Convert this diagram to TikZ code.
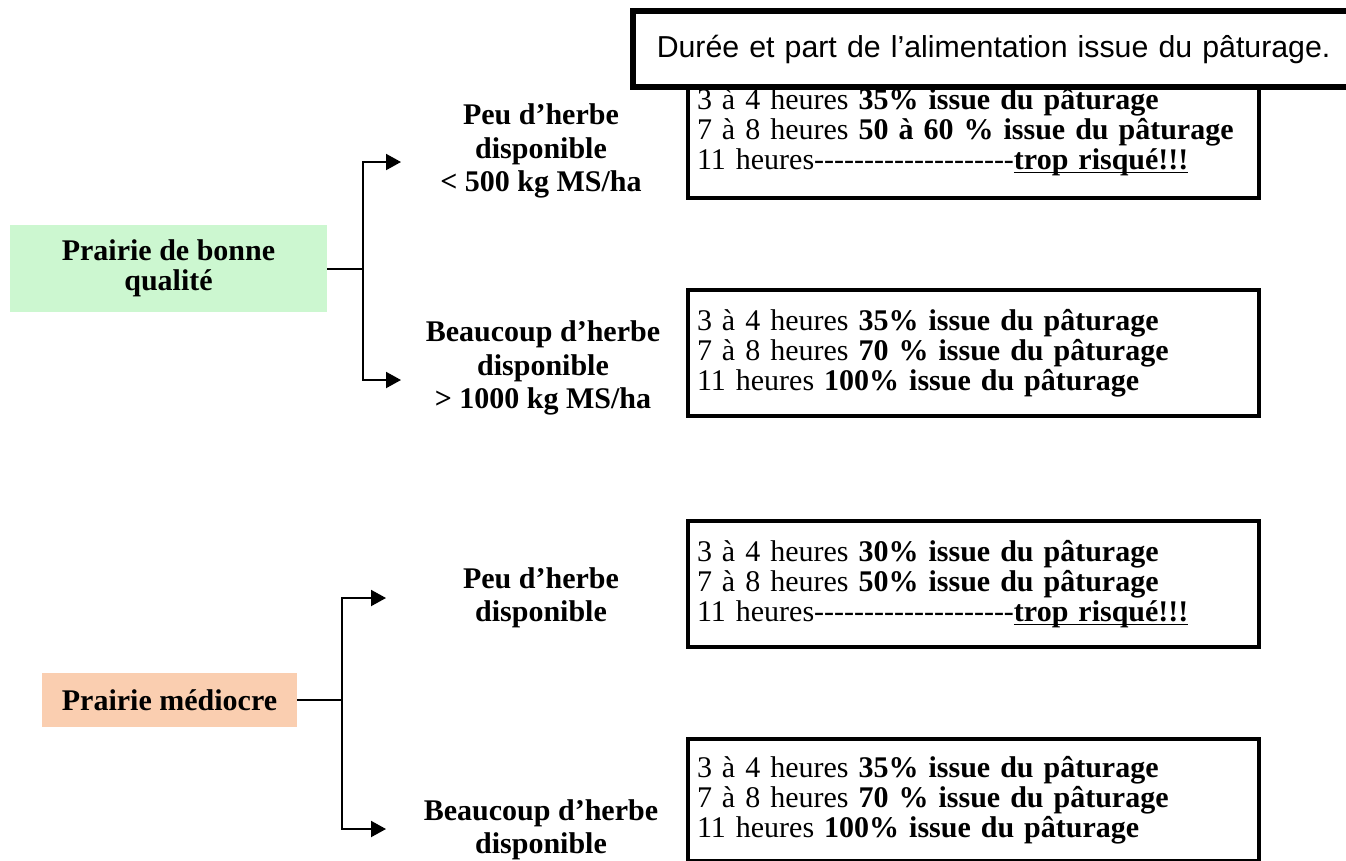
\documentclass[tikz,border=0pt]{standalone}
\usepackage{fontspec}
\setmainfont{Liberation Serif}
\newfontfamily\bodyfont{Liberation Serif}
\newfontfamily\titlefont{Liberation Sans}
\usetikzlibrary{arrows.meta}
\definecolor{goodgreen}{RGB}{204,247,208}
\definecolor{poorpeach}{RGB}{250,206,176}
\def\hy{-\kern0pt}
\def\dashrow{\hy\hy\hy\hy\hy\hy\hy\hy\hy\hy\hy\hy\hy\hy\hy\hy\hy\hy\hy\hy}
\newcommand\thickul[1]{\setbox0=\hbox{#1}\rlap{\rule[-4pt]{\wd0}{1.8pt}}\box0}
\begin{document}
\begin{tikzpicture}[x=1pt,y=-1pt,
  databox/.style={draw, line width=4pt, fill=white, minimum width=571pt,
    minimum height=126pt, text width=553pt, inner xsep=9pt, align=left,
    anchor=north west, font=\bodyfont\fontsize{30}{30}\selectfont},
  branchlabel/.style={align=center, font=\bfseries\fontsize{30}{33.5}\selectfont},
  rootbox/.style={align=center, inner sep=0pt, font=\bfseries\fontsize{30}{30}\selectfont},
  conn/.style={line width=2pt},
  arr/.style={line width=2pt, -{Triangle[length=15pt,width=16pt]}},
  titlebox/.style={draw, line width=5.5pt, fill=white, minimum width=740pt,
    minimum height=76pt, text width=700pt, inner xsep=24pt, align=left,
    anchor=west, font=\titlefont\fontsize{30.3}{30}\selectfont}]
\useasboundingbox (0,0) rectangle (1346,860);

% data boxes
\node[databox, minimum height=132pt] (boxA) at (686,64)
  {3 à 4 heures \textbf{35\% issue du pâturage}\\
   7 à 8 heures \textbf{50 à 60 \% issue du pâturage}\\
   11 heures\dashrow\thickul{\textbf{trop risqué!!!}}};
\node[databox] (boxB) at (686,288)
  {3 à 4 heures \textbf{35\% issue du pâturage}\\
   7 à 8 heures \textbf{70 \% issue du pâturage}\\
   11 heures \textbf{100\% issue du pâturage}};
\node[databox] (boxC) at (686,519)
  {3 à 4 heures \textbf{30\% issue du pâturage}\\
   7 à 8 heures \textbf{50\% issue du pâturage}\\
   11 heures\dashrow\thickul{\textbf{trop risqué!!!}}};
\node[databox, minimum height=122pt] (boxD) at (686,737)
  {3 à 4 heures \textbf{35\% issue du pâturage}\\
   7 à 8 heures \textbf{70 \% issue du pâturage}\\
   11 heures \textbf{100\% issue du pâturage}};

% title box
\node[titlebox] (title) at (630,49) {Durée et part de l’alimentation issue du pâturage.};

% root boxes
\node[rootbox, fill=goodgreen, minimum width=317pt, minimum height=87pt] (good) at (168.5,268.5)
  {Prairie de bonne\\qualité};
\node[rootbox, fill=poorpeach, minimum width=255pt, minimum height=54pt] (poor) at (169.5,700)
  {Prairie médiocre};

% branch labels
\node[branchlabel] (gl) at (541,151) {Peu d’herbe\\disponible\\< 500 kg MS/ha};
\node[branchlabel] (gh) at (543,368) {Beaucoup d’herbe\\disponible\\> 1000 kg MS/ha};
\node[branchlabel] (pl) at (541,598) {Peu d’herbe\\disponible};
\node[branchlabel] (ph) at (541,830) {Beaucoup d’herbe\\disponible};

% connectors
\coordinate (j1) at (363,268.5);
\coordinate (t1) at (401,162);
\coordinate (t2) at (401,380);
\draw[conn] (good.east) -- (j1);
\draw[arr] (j1) |- (t1);
\draw[arr] (j1) |- (t2);

\coordinate (j2) at (342,700);
\coordinate (t3) at (386,598);
\coordinate (t4) at (386,829);
\draw[conn] (poor.east) -- (j2);
\draw[arr] (j2) |- (t3);
\draw[arr] (j2) |- (t4);
\end{tikzpicture}
\end{document}
